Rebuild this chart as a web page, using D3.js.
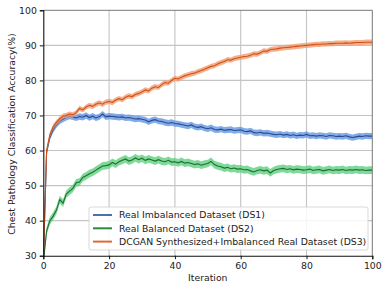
<!DOCTYPE html>
<html>
<head>
<meta charset="utf-8">
<script src="https://cdn.jsdelivr.net/npm/d3@7"></script>
<style>
  body { margin: 0; background: #fff; }
  text { font-family: "DejaVu Sans", sans-serif; fill: #222; }
</style>
</head>
<body>
<script>
// accuracy per iteration (0..100)
const ds1 = [28.0, 59.5, 63.8, 66.0, 67.4, 68.4, 69.0, 69.5, 69.8, 69.6,
  69.3, 69.7, 69.5, 70.0, 69.4, 69.8, 69.3, 69.6, 70.4, 69.6,
  69.8, 69.7, 69.6, 69.5, 69.6, 69.3, 69.4, 69.2, 69.0, 69.1,
  68.9, 68.7, 68.2, 68.6, 68.8, 68.4, 68.3, 68.0, 67.8, 68.0,
  67.7, 67.6, 67.4, 67.2, 67.0, 67.3, 66.8, 66.6, 66.8, 66.4,
  66.2, 66.5, 66.0, 65.9, 66.1, 65.8, 65.9, 66.0, 65.7, 65.8,
  65.9, 65.5, 65.4, 65.6, 65.1, 65.0, 65.2, 64.9, 65.0, 64.8,
  64.6, 64.5, 64.7, 64.4, 64.6, 64.3, 64.5, 64.2, 64.4, 64.3,
  64.6, 64.2, 64.3, 64.1, 64.3, 64.2, 64.0, 64.3, 64.2, 64.0,
  64.1, 64.0, 64.2, 63.9, 63.7, 63.9, 64.1, 64.0, 64.2, 64.1, 64.1];

const ds2 = [28.0, 37.0, 40.0, 41.3, 43.0, 46.0, 45.0, 47.6, 48.4, 49.2,
  50.8, 51.0, 52.3, 52.8, 53.4, 53.8, 54.4, 55.0, 55.6, 55.7,
  55.9, 56.6, 56.1, 56.8, 57.2, 57.6, 57.0, 57.3, 57.9, 57.4,
  57.8, 57.2, 57.6, 57.3, 57.0, 57.4, 57.0, 56.8, 57.2, 56.7,
  56.8, 56.5, 56.9, 56.4, 56.6, 56.3, 56.0, 56.2, 55.8, 56.1,
  56.3, 56.9, 56.0, 55.6, 55.4, 55.0, 55.2, 54.8, 55.0, 54.7,
  54.8, 54.5, 54.6, 54.2, 53.9, 54.3, 54.5, 54.2, 54.4, 53.6,
  54.3, 54.6, 54.8, 54.9, 54.6, 54.8, 54.5, 54.7, 54.6, 54.4,
  54.5, 54.7, 54.3, 54.5, 54.6, 54.2, 54.4, 54.6, 54.3, 54.5,
  54.4, 54.6, 54.3, 54.5, 54.4, 54.6, 54.4, 54.5, 54.3, 54.4, 54.4];

const ds3 = [28.0, 60.0, 64.5, 66.8, 68.0, 69.0, 69.8, 70.0, 70.4, 70.2,
  70.8, 72.0, 71.6, 72.4, 72.9, 72.6, 73.2, 73.6, 73.2, 73.8,
  74.0, 73.7, 74.4, 74.8, 74.5, 75.2, 75.6, 75.4, 76.0, 76.3,
  76.7, 77.3, 77.0, 77.8, 78.2, 78.0, 78.8, 79.4, 79.2, 80.0,
  80.6, 80.4, 80.9, 81.3, 81.6, 81.9, 82.1, 82.5, 82.8, 83.2,
  83.6, 84.0, 84.2, 84.7, 85.1, 85.4, 85.9, 85.8, 86.2, 86.4,
  86.6, 86.8, 86.9, 87.2, 87.6, 87.5, 87.9, 88.4, 88.3, 88.8,
  88.9, 89.0, 89.2, 89.3, 89.4, 89.5, 89.6, 89.7, 89.8, 89.9,
  90.0, 90.1, 90.2, 90.3, 90.3, 90.4, 90.4, 90.5, 90.5, 90.6,
  90.6, 90.6, 90.7, 90.6, 90.7, 90.8, 90.8, 90.8, 90.9, 90.9, 90.9];

// half width of the shaded band for each series
const spread = [0.9, 1.1, 0.75];

const labels = [
  'Real Imbalanced Dataset (DS1)',
  'Real Balanced Dataset (DS2)',
  'DCGAN Synthesized+Imbalanced Real Dataset (DS3)'
];
const xTicks = [0, 20, 40, 60, 80, 100];
const yTicks = [30, 40, 50, 60, 70, 80, 90, 100];

const lineColors = ['#2a4a8c', '#1b6e30', '#cf4f1a'];
const legendColors = ['#4c6fae', '#2e8b3e', '#dd6a3e'];
const bandColors = ['#6396e4', '#5fd07f', '#f39c6e'];

const W = 388, H = 290;
const FS = 9.3;
const x = d3.scaleLinear().domain([0, 100]).range([43.3, 372.3]);
const y = d3.scaleLinear().domain([30, 100]).range([255.7, 10.3]);

const svg = d3.select('body').append('svg')
    .attr('width', W)
    .attr('height', H);

svg.append('clipPath').attr('id', 'clip')
  .append('rect')
    .attr('x', x(0)).attr('y', y(100))
    .attr('width', x(100) - x(0)).attr('height', y(30) - y(100));

// grid
const grid = svg.append('g');
grid.selectAll('.gx').data(xTicks.slice(1, -1)).join('line')
    .attr('x1', d => x(d)).attr('x2', d => x(d))
    .attr('y1', y(30)).attr('y2', y(100))
    .attr('stroke', '#c4c4c4').attr('stroke-width', 1.1);
grid.selectAll('.gy').data(yTicks.slice(1, -1)).join('line')
    .attr('x1', x(0)).attr('x2', x(100))
    .attr('y1', d => y(d)).attr('y2', d => y(d))
    .attr('stroke', '#c4c4c4').attr('stroke-width', 1.1);

// series
const plot = svg.append('g').attr('clip-path', 'url(#clip)');
const series = [ds1, ds2, ds3];

const area = (s) => d3.area()
    .x((d, i) => x(i))
    .y0(d => y(d - s))
    .y1(d => y(d + s));

const line = d3.line()
    .x((d, i) => x(i))
    .y(d => y(d));

series.forEach((vals, k) => {
  plot.append('path')
      .datum(vals)
      .attr('d', area(spread[k]))
      .attr('fill', bandColors[k])
      .attr('opacity', 0.8);
  plot.append('path')
      .datum(vals)
      .attr('d', line)
      .attr('fill', 'none')
      .attr('stroke', lineColors[k])
      .attr('stroke-width', 1.1);
});

// frame
svg.append('line').attr('x1', x(0)).attr('x2', x(100)).attr('y1', y(100)).attr('y2', y(100))
    .attr('stroke', '#777').attr('stroke-width', 1);
svg.append('line').attr('x1', x(100)).attr('x2', x(100)).attr('y1', y(30)).attr('y2', y(100))
    .attr('stroke', '#777').attr('stroke-width', 1);

const xAxis = svg.append('g')
    .attr('transform', `translate(0,${y(30)})`)
    .call(d3.axisBottom(x).tickValues(xTicks).tickSize(3.5).tickPadding(3));
const yAxis = svg.append('g')
    .attr('transform', `translate(${x(0)},0)`)
    .call(d3.axisLeft(y).tickValues(yTicks).tickSize(3.5).tickPadding(3));

[xAxis, yAxis].forEach(a => {
  a.select('.domain').attr('stroke', '#111').attr('stroke-width', 1.1);
  a.selectAll('.tick line').attr('stroke', '#111');
  a.selectAll('.tick text').attr('font-size', FS).attr('font-family', '"DejaVu Sans", sans-serif').attr('fill', '#222');
});

svg.append('text')
    .attr('x', (x(0) + x(100)) / 2)
    .attr('y', 281)
    .attr('text-anchor', 'middle')
    .attr('font-size', FS)
    .text('Iteration');

svg.append('text')
    .attr('transform', `translate(14.5,${(y(30) + y(100)) / 2 + 1}) rotate(-90)`)
    .attr('text-anchor', 'middle')
    .attr('font-size', FS)
    .text('Chest Pathology Classification Accuracy(%)');

// legend
const legend = svg.append('g');
legend.append('rect')
    .attr('x', 89).attr('y', 207)
    .attr('width', 279).attr('height', 43)
    .attr('rx', 2)
    .attr('fill', '#fff').attr('fill-opacity', 0.85)
    .attr('stroke', '#cfcfcf').attr('stroke-width', 0.8);

labels.forEach((lab, k) => {
  const yy = 215 + k * 13.3;
  legend.append('line')
      .attr('x1', 93).attr('x2', 112)
      .attr('y1', yy).attr('y2', yy)
      .attr('stroke', legendColors[k]).attr('stroke-width', 2);
  legend.append('text')
      .attr('x', 119).attr('y', yy + 3.3)
      .attr('font-size', FS)
      .text(lab);
});
</script>
</body>
</html>
